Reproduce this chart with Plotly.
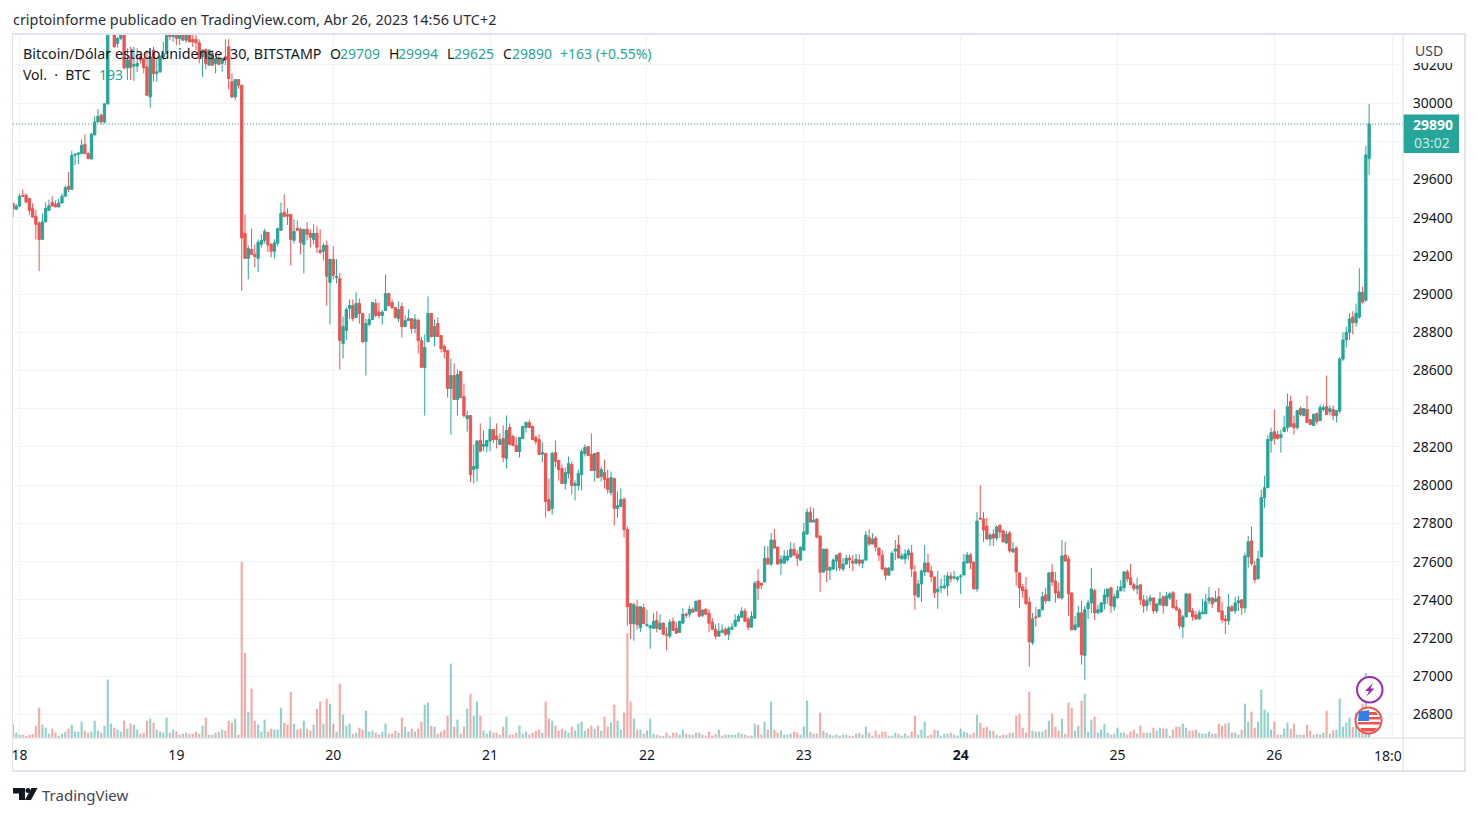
import pandas as pd
import plotly.graph_objects as go

W, H = 1478, 816
FONT = "Noto Sans"
GREEN, RED = "#26a69a", "#ef5350"
GRID = "#f0f3fa"
BORDER = "#e0e3eb"
TEXT = "#131722"

opens = [
29475,29444,29461,29517,29517,29500,29447,29407,29372,29286,
29378,29438,29480,29470,29456,29477,29512,29564,29548,29727,
29732,29735,29784,29735,29707,29833,29901,29936,29901,29996,
30365,30400,30312,30338,30370,30184,30240,30193,30193,30242,
30233,30189,30032,30277,30155,30163,30242,30259,30365,30347,
30362,30338,30365,30329,30362,30333,30333,30315,30242,30280,
30198,30259,30207,30233,30207,30242,30294,30111,30032,30123,
30093,29318,29187,29234,29208,29187,29260,29281,29323,29260,
29224,29266,29334,29428,29417,29417,29281,29344,29339,29260,
29339,29318,29286,29318,29229,29224,29255,29061,29182,29087,
29082,28741,28810,28925,28941,28878,28951,28899,28752,28841,
28867,28951,28906,28888,28914,29003,28956,28930,28872,28935,
28830,28862,28872,28820,28862,28757,28616,28752,28899,28778,
28846,28783,28726,28705,28506,28574,28448,28595,28463,28348,
28365,28082,28087,28234,28204,28204,28231,28292,28257,28213,
28244,28140,28302,28255,28208,28176,28244,28302,28328,28307,
28250,28239,28162,28166,27925,27878,28171,28129,28087,28009,
28061,28108,27998,27998,28056,28166,28203,28160,28077,28171,
28045,28066,28035,27961,28035,27878,27888,27927,27768,27380,
27275,27364,27254,27359,27264,27254,27251,27293,27246,27278,
27220,27210,27288,27251,27230,27278,27325,27325,27351,27341,
27398,27319,27351,27330,27283,27246,27210,27230,27246,27220,
27246,27262,27288,27309,27341,27299,27257,27304,27498,27487,
27493,27618,27587,27713,27676,27592,27592,27608,27624,27665,
27639,27608,27660,27744,27859,27807,27823,27734,27545,27665,
27555,27561,27603,27644,27561,27587,27618,27603,27592,27608,
27592,27608,27728,27692,27723,27671,27634,27566,27529,27555,
27655,27687,27614,27614,27635,27645,27546,27416,27483,27546,
27593,27551,27520,27442,27463,27463,27473,27525,27515,27508,
27520,27530,27593,27635,27598,27457,27828,27823,27786,27718,
27744,27723,27791,27760,27697,27750,27650,27671,27541,27468,
27452,27389,27175,27311,27311,27348,27426,27395,27546,27499,
27442,27410,27635,27614,27436,27243,27259,27332,27108,27353,
27384,27447,27332,27337,27379,27416,27463,27363,27410,27447,
27463,27547,27515,27479,27458,27479,27400,27369,27395,27410,
27342,27374,27416,27369,27410,27437,27363,27348,27258,27311,
27431,27342,27321,27300,27327,27327,27395,27410,27390,27416,
27342,27300,27290,27363,27342,27384,27400,27358,27625,27709,
27579,27510,27625,27935,27987,28233,28280,28265,28249,28280,
28301,28438,28322,28301,28401,28365,28396,28343,28312,28375,
28338,28396,28411,28385,28396,28364,28388,28660,28760,28800,
28880,28850,28880,29010,28968,29709]

highs = [
29475,29470,29526,29547,29525,29505,29475,29440,29380,29421,
29480,29494,29512,29490,29501,29526,29569,29639,29750,29736,
29740,29809,29835,29745,29842,29931,29968,29945,29996,30380,
30400,30410,30345,30380,30380,30286,30294,30294,30286,30259,
30235,30277,30268,30294,30233,30250,30320,30380,30380,30375,
30375,30375,30375,30370,30370,30359,30359,30333,30280,30285,
30280,30277,30236,30259,30236,30333,30333,30155,30125,30125,
30095,29417,29255,29342,29260,29286,29313,29342,29325,29269,
29286,29349,29479,29522,29449,29419,29391,29386,29349,29341,
29377,29339,29365,29356,29339,29269,29280,29184,29251,29182,
29112,28883,28930,28972,28972,29009,28977,28901,28872,28899,
28958,28975,28956,28916,29103,29008,28972,28932,28962,28956,
28888,28920,28874,28894,28872,28776,28789,28988,28901,28867,
28878,28785,28736,28707,28663,28637,28605,28597,28532,28390,
28367,28213,28236,28323,28286,28236,28358,28294,28323,28271,
28313,28365,28323,28265,28250,28252,28312,28333,28343,28312,
28260,28265,28224,28168,28035,28176,28234,28131,28108,28092,
28150,28124,28025,28082,28190,28213,28205,28271,28168,28173,
28098,28134,28082,28072,28040,27967,27983,27935,27784,27382,
27386,27401,27366,27380,27348,27270,27330,27341,27325,27283,
27257,27299,27309,27283,27290,27356,27335,27367,27360,27395,
27400,27351,27356,27351,27304,27272,27278,27272,27257,27262,
27278,27325,27325,27361,27356,27309,27341,27498,27561,27489,
27681,27681,27749,27770,27678,27634,27660,27660,27702,27697,
27660,27678,27802,27879,27886,27880,27825,27736,27667,27667,
27573,27618,27636,27646,27618,27634,27634,27634,27639,27639,
27613,27760,27770,27749,27734,27673,27660,27572,27572,27655,
27713,27739,27645,27666,27670,27687,27583,27504,27560,27687,
27640,27578,27522,27551,27510,27530,27545,27545,27551,27525,
27535,27640,27650,27645,27600,27859,28000,27859,27828,27750,
27770,27791,27793,27770,27760,27760,27703,27680,27543,27484,
27520,27416,27332,27363,27350,27442,27463,27546,27588,27546,
27490,27713,27703,27630,27438,27316,27369,27395,27369,27400,
27567,27457,27374,27390,27457,27457,27468,27432,27473,27504,
27551,27558,27589,27490,27515,27481,27426,27421,27426,27412,
27381,27442,27421,27442,27442,27447,27400,27358,27322,27437,
27437,27358,27342,27348,27405,27431,27468,27412,27447,27463,
27390,27321,27431,27374,27416,27421,27402,27646,27735,27783,
27605,27657,27976,28050,28260,28301,28396,28286,28291,28364,
28480,28469,28364,28395,28411,28403,28469,28345,28375,28380,
28422,28422,28574,28417,28417,28392,28670,28800,28830,28900,
28910,28950,29135,29040,29775,29994]

lows = [
29403,29440,29455,29508,29475,29412,29400,29286,29120,29286,
29375,29436,29459,29455,29454,29475,29510,29534,29545,29674,
29680,29733,29733,29705,29705,29830,29899,29889,29892,29990,
30360,30290,30290,30330,30176,30120,30120,30116,30163,30207,
30155,30036,29975,30111,30111,30158,30225,30257,30329,30320,
30303,30303,30325,30315,30318,30294,30277,30207,30137,30176,
30195,30196,30155,30200,30163,30198,30071,30024,30015,30075,
29017,29185,29077,29205,29140,29115,29243,29265,29220,29192,
29187,29250,29331,29403,29362,29150,29265,29330,29208,29108,
29281,29245,29260,29215,29208,29176,28940,28841,29077,29056,
28605,28663,28760,28870,28857,28876,28846,28746,28574,28832,
28865,28878,28872,28841,28912,28935,28920,28872,28853,28773,
28828,28860,28794,28794,28689,28612,28364,28746,28773,28727,
28776,28694,28663,28458,28264,28446,28364,28456,28354,28280,
28016,28009,28019,28176,28178,28173,28178,28220,28192,28211,
28120,28087,28208,28204,28174,28145,28242,28275,28300,28237,
28213,28159,28119,27830,27865,27846,28093,28024,28007,27977,
28035,27951,27920,27972,27972,28150,28153,28075,28019,28035,
28019,27983,27955,27946,27789,27830,27885,27726,27264,27196,
27186,27243,27233,27273,27262,27144,27249,27230,27244,27215,
27136,27199,27236,27223,27228,27273,27303,27309,27333,27339,
27309,27309,27320,27230,27244,27194,27208,27225,27210,27189,
27244,27257,27286,27307,27286,27241,27255,27302,27398,27456,
27491,27582,27577,27669,27585,27529,27590,27600,27622,27632,
27576,27606,27658,27742,27805,27805,27726,27440,27543,27493,
27503,27559,27550,27550,27550,27585,27566,27550,27585,27576,
27566,27606,27682,27690,27655,27603,27559,27503,27527,27553,
27608,27617,27612,27588,27610,27520,27348,27410,27389,27525,
27544,27494,27410,27353,27435,27455,27421,27490,27505,27495,
27431,27528,27591,27560,27455,27442,27821,27703,27716,27682,
27682,27710,27725,27701,27690,27646,27648,27473,27358,27410,
27375,27050,27165,27259,27309,27346,27380,27393,27473,27385,
27408,27400,27601,27316,27241,27241,27254,27061,26982,27300,
27330,27295,27325,27330,27350,27379,27332,27342,27408,27445,
27442,27494,27477,27445,27428,27374,27332,27342,27374,27327,
27330,27372,27327,27367,27400,27356,27342,27248,27201,27309,
27335,27290,27295,27298,27325,27325,27379,27358,27388,27335,
27279,27222,27269,27340,27327,27342,27321,27332,27568,27579,
27489,27508,27623,27882,27985,28170,28212,28239,28170,28278,
28280,28305,28265,28290,28360,28360,28326,28315,28310,28317,
28336,28385,28367,28364,28338,28328,28375,28650,28720,28760,
28790,28830,28870,28950,28960,29625]

closes = [
29447,29461,29512,29512,29482,29438,29403,29365,29286,29378,
29449,29463,29461,29456,29477,29512,29557,29548,29727,29732,
29739,29779,29735,29709,29837,29901,29931,29901,29996,30365,
30380,30294,30338,30370,30184,30225,30186,30202,30207,30225,
30184,30041,30242,30153,30163,30242,30259,30365,30347,30360,
30338,30360,30329,30362,30320,30320,30315,30233,30277,30207,
30277,30198,30233,30202,30233,30225,30128,30032,30123,30093,
29293,29187,29239,29208,29197,29271,29281,29328,29257,29224,
29269,29342,29423,29407,29407,29286,29328,29334,29271,29339,
29313,29297,29318,29245,29218,29255,29093,29182,29098,29093,
28757,28830,28920,28941,28872,28951,28899,28750,28846,28867,
28956,28888,28888,28906,29003,28941,28930,28878,28920,28830,
28862,28872,28820,28867,28757,28616,28721,28899,28778,28830,
28778,28715,28699,28506,28574,28448,28579,28458,28364,28364,
28056,28098,28231,28178,28213,28234,28292,28239,28239,28239,
28145,28286,28213,28208,28176,28250,28307,28328,28302,28239,
28229,28161,28171,27914,27867,28166,28124,28082,28009,28066,
28113,27998,28009,28061,28176,28197,28155,28077,28166,28040,
28082,28030,27977,28040,27878,27893,27925,27768,27364,27275,
27375,27270,27364,27275,27270,27264,27288,27251,27278,27220,
27215,27283,27241,27225,27288,27325,27320,27351,27335,27393,
27314,27346,27325,27278,27246,27210,27236,27241,27220,27251,
27257,27293,27314,27341,27288,27257,27314,27487,27461,27477,
27618,27587,27713,27671,27587,27613,27629,27629,27665,27634,
27618,27676,27755,27859,27807,27817,27728,27545,27665,27555,
27571,27608,27634,27566,27587,27618,27608,27592,27613,27592,
27608,27739,27692,27718,27676,27634,27561,27529,27566,27644,
27666,27619,27630,27640,27657,27562,27426,27483,27551,27593,
27546,27520,27436,27457,27468,27473,27525,27510,27520,27518,
27525,27598,27635,27593,27457,27812,27823,27765,27718,27739,
27723,27781,27755,27703,27744,27656,27666,27546,27463,27447,
27379,27181,27301,27306,27348,27416,27395,27541,27494,27436,
27410,27630,27603,27431,27243,27269,27332,27113,27348,27384,
27457,27332,27348,27384,27426,27457,27369,27416,27447,27468,
27546,27510,27479,27458,27473,27400,27369,27395,27410,27342,
27379,27405,27369,27421,27431,27358,27348,27264,27311,27431,
27337,27311,27300,27332,27337,27390,27410,27379,27405,27337,
27295,27290,27363,27342,27384,27395,27358,27630,27704,27589,
27505,27615,27935,27987,28239,28275,28244,28244,28265,28301,
28411,28307,28301,28390,28370,28401,28328,28317,28370,28333,
28406,28406,28369,28401,28364,28390,28660,28760,28800,28870,
28850,28900,29010,28958,29728,29890]

volumes = [
43,16,10,10,6,9,12,37,91,40,
31,13,28,16,7,13,19,28,40,19,
19,49,22,16,19,52,22,16,37,175,
43,31,25,19,52,28,43,40,25,13,
16,52,58,46,25,19,16,61,16,25,
19,10,13,16,13,13,19,13,37,61,
10,10,16,19,25,22,52,46,58,10,
528,255,79,148,52,40,19,55,19,28,
25,25,91,46,40,139,43,25,28,52,
28,22,40,88,109,43,118,103,43,19,
163,70,37,43,13,16,31,25,82,19,
22,16,10,19,43,13,13,22,16,61,
34,19,28,19,28,49,100,106,37,34,
13,19,25,67,223,34,55,13,34,88,
133,67,109,67,22,13,22,16,16,10,
34,64,10,10,16,37,13,19,10,16,
22,25,16,109,58,52,37,22,28,22,
16,34,22,43,49,22,28,37,28,37,
22,64,34,46,100,52,25,76,315,109,
58,25,25,13,22,58,13,10,7,7,
16,7,16,16,10,25,13,10,10,16,
16,10,7,19,7,13,25,7,10,10,
10,10,16,13,10,7,7,43,40,10,
49,25,109,25,16,22,10,10,13,19,
16,10,34,112,19,13,13,76,22,16,
10,7,10,7,10,10,7,7,13,16,
10,34,16,7,22,10,19,19,7,7,
16,13,7,13,7,19,67,10,25,49,
7,10,25,22,7,13,13,16,10,7,
28,19,16,10,16,70,46,31,34,22,
22,10,7,10,10,16,16,67,73,31,
16,139,22,19,19,19,25,52,73,34,
22,58,13,106,91,22,37,112,133,19,
55,64,16,25,43,16,10,13,31,16,
16,10,19,25,13,37,16,16,16,31,
22,31,28,28,7,25,34,34,43,31,
22,22,25,16,13,13,19,13,13,43,
37,43,46,16,16,10,25,103,49,79,
31,49,145,85,76,25,49,10,10,28,
46,28,43,10,10,10,40,22,10,13,
10,16,82,13,22,25,118,34,46,61,
34,76,67,103,195,75]

day_ticks = ["2023-04-18", "2023-04-19", "2023-04-20", "2023-04-21", "2023-04-22",
             "2023-04-23", "2023-04-24", "2023-04-25", "2023-04-26", "2023-04-26 18:00"]
day_labels = ["18", "19", "20", "21", "22", "23", "<b>24</b>", "25", "26", ""]
price_ticks = [26800, 27000, 27200, 27400, 27600, 27800, 28000, 28200, 28400, 28600,
               28800, 29000, 29200, 29400, 29600, 29800, 30000, 30200]

n = len(closes)
assert len(opens) == len(highs) == len(lows) == len(volumes) == n, (len(opens), len(highs), len(lows), len(volumes), n)

times = pd.date_range("2023-04-17 23:00", periods=n, freq="30min")
vol_colors = ["rgba(38,166,154,0.5)" if c >= o else "rgba(239,83,80,0.5)" for o, c in zip(opens, closes)]


def px(x):
    return x / W


def py(y):
    return 1 - y / H


def path(points):
    return "M" + "L".join(f"{px(x):.5f},{py(y):.5f}" for x, y in points) + "Z"


def rect(x0, y0, x1, y1, fill, line=None, width=0, kind="rect"):
    return dict(type=kind, xref="paper", yref="paper", x0=px(x0), x1=px(x1), y0=py(y0), y1=py(y1),
                fillcolor=fill, line=dict(color=line or fill, width=width), layer="above")


def poly(points, fill):
    return dict(type="path", xref="paper", yref="paper", path=path(points),
                fillcolor=fill, line=dict(width=0), layer="above")


def label(x, y, text, color=TEXT, size=14, anchor="left"):
    return dict(xref="paper", yref="paper", x=px(x), y=py(y), text=text, showarrow=False,
                xanchor=anchor, yanchor="middle", xshift=0,
                font=dict(family=FONT, size=size, color=color), borderpad=0, borderwidth=0)


fig = go.Figure()
fig.add_trace(go.Bar(x=times, y=volumes, marker=dict(color=vol_colors, line=dict(width=0)),
                     xaxis="x", yaxis="y", hoverinfo="skip", showlegend=False))
fig.add_trace(go.Candlestick(
    x=times, open=opens, high=highs, low=lows, close=closes, xaxis="x", yaxis="y2",
    increasing=dict(line=dict(color=GREEN, width=1), fillcolor=GREEN),
    decreasing=dict(line=dict(color=RED, width=1), fillcolor=RED),
    whiskerwidth=0, showlegend=False))

LEFT, RIGHT, TOP, BOTTOM = 13, 1403, 35, 738
span_candles = (RIGHT - 12.9) / 3.268
x_end = times[0] + pd.Timedelta(minutes=30 * span_candles)
y_scale = (714.5 - 103) / 3200
y_top = 30000 + (103 - TOP) / y_scale
y_bot = 26800 - (BOTTOM - 714.5) / y_scale

shapes = [
    # price line
    dict(type="line", xref="paper", yref="y2", x0=px(LEFT), x1=px(RIGHT), y0=closes[-1], y1=closes[-1],
         line=dict(color=GREEN, width=1, dash="1px,2px"), layer="above"),
    # masks + frame
    rect(1404, 35, 1464, 63, "white"),
    rect(RIGHT, 114.5, 1459, 153, GREEN),
    rect(12, 34, 13, 771, BORDER),
    rect(12, 33, 1466, 35, BORDER),
    rect(1464, 34, 1466, 772, BORDER),
    rect(12, 770, 1466, 772, BORDER),
    rect(LEFT, 737.5, 1465, 738.8, BORDER),
    rect(1402.5, 35, 1403.7, 771, BORDER),
    # purple event icon
    rect(1357, 677, 1382.5, 702.5, "white", "#9c27b0", 2, "circle"),
    poly([(1373, 683), (1365, 691), (1369, 691), (1366.5, 696.5), (1374.5, 688.5), (1370.5, 688.5)], "#9c27b0"),
    # US flag event icon
    rect(1355.5, 707.5, 1381.5, 733.5, "white", "#ef5350", 2, "circle"),
    poly([(1361, 712), (1376, 712), (1378, 715), (1361, 715)], "#ef5350"),
    poly([(1359, 717), (1380, 717), (1380, 719.5), (1359, 719.5)], "#ef5350"),
    poly([(1358, 722), (1380, 722), (1380, 724.5), (1358, 724.5)], "#ef5350"),
    poly([(1360, 728), (1377, 728), (1374, 731.5), (1363, 731.5)], "#ef5350"),
    poly([(1359, 711.5), (1369, 710), (1369, 721), (1358, 721)], "#2f80ed"),
    # TradingView mark
    poly([(13, 788), (25, 788), (25, 800), (19, 800), (19, 793.5), (13, 793.5)], TEXT),
    rect(25.5, 788, 30.5, 793, TEXT, kind="circle"),
    poly([(31.5, 788), (37.5, 788), (31, 800), (25, 800)], TEXT),
]

annotations = [
    label(13, 19.5, "criptoinforme publicado en TradingView.com, Abr 26, 2023 14:56 UTC+2", "#2a2e39", 14.4),
    label(23, 54, "Bitcoin/Dólar estadounidense, 30, BITSTAMP", TEXT, 14.3),
    label(330, 54, "O"), label(340, 54, "29709", GREEN),
    label(389, 54, "H"), label(398, 54, "29994", GREEN),
    label(447, 54, "L"), label(454, 54, "29625", GREEN),
    label(503, 54, "C"), label(512, 54, "29890", GREEN),
    label(560, 54, "+163 (+0.55%)", GREEN),
    label(23, 74, "Vol.&nbsp; ·&nbsp; BTC"), label(99, 74, "193", GREEN),
    label(1415, 50, "USD", "#434651"),
    label(1433, 124.5, "<b>29890</b>", "white", 14, "center"),
    label(1432, 142.5, "03:02", "rgba(255,255,255,0.75)", 14, "center"),
    label(1374, 755, "18:0"),
    label(42, 794.5, "TradingView", "#434651", 15),
]

fig.update_layout(
    width=W, height=H, margin=dict(l=0, r=0, t=0, b=0), autosize=False,
    paper_bgcolor="white", plot_bgcolor="white", bargap=0.35, boxgap=0.0,
    font=dict(family=FONT, size=14, color=TEXT), showlegend=False,
    shapes=shapes, annotations=annotations,
    xaxis=dict(domain=[px(LEFT), px(RIGHT)], range=[times[0], x_end], rangeslider=dict(visible=False),
               tickmode="array", tickvals=day_ticks, ticktext=day_labels, showgrid=True, gridcolor=GRID,
               gridwidth=1, zeroline=False, showline=False, ticks="outside", ticklen=4,
               tickcolor="rgba(0,0,0,0)", tickfont=dict(family=FONT, size=14, color=TEXT)),
    yaxis=dict(domain=[py(BOTTOM), py(TOP)], range=[0, (BOTTOM - TOP) * 3], showgrid=False, zeroline=False,
               showticklabels=False, ticks=""),
    yaxis2=dict(domain=[py(BOTTOM), py(TOP)], overlaying="y", side="right", range=[y_bot, y_top],
                tickmode="array", tickvals=price_ticks, ticktext=[str(v) for v in price_ticks],
                showgrid=True, gridcolor=GRID, gridwidth=1, zeroline=False, showline=False,
                ticks="outside", ticklen=6, tickcolor="rgba(0,0,0,0)",
                tickfont=dict(family=FONT, size=14, color=TEXT)),
)

fig.write_html("out.html", config=dict(displayModeBar=False),
               post_script="document.body.style.margin='0';document.body.style.overflow='hidden';")
